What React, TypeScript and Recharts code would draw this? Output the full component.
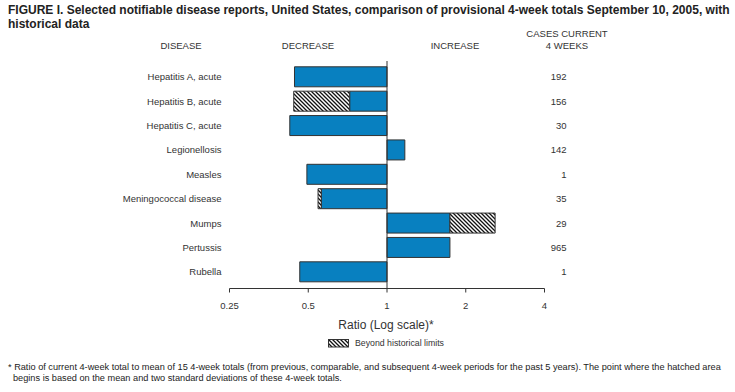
import React from "react";
import {
  BarChart,
  Bar,
  XAxis,
  YAxis,
  ReferenceLine,
} from "recharts";

// values (ratio of current 4-week total to historical mean)
const diseases = [
  "Hepatitis A, acute",
  "Hepatitis B, acute",
  "Hepatitis C, acute",
  "Legionellosis",
  "Measles",
  "Meningococcal disease",
  "Mumps",
  "Pertussis",
  "Rubella",
];
const ratios = [0.443, 0.44, 0.425, 1.17, 0.494, 0.545, 2.59, 1.74, 0.464];
// where the hatched part starts (historical limit), null if not beyond limits
const limits = [null, 0.72, null, null, null, 0.561, 1.74, null, null];
const cases = [192, 156, 30, 142, 1, 35, 29, 965, 1];
const xTicks = [0.25, 0.5, 1, 2, 4];

const BLUE = "#0880c0";
const EDGE = "#333";
const FONT = '"Liberation Sans", Arial, Helvetica, sans-serif';

const data = diseases.map((disease, i) => {
  const r = ratios[i];
  const lim = limits[i];
  const inner = lim ?? r;
  return {
    disease,
    cases: cases[i],
    normal: [Math.min(1, inner), Math.max(1, inner)],
    beyond: lim == null ? null : [Math.min(lim, r), Math.max(lim, r)],
  };
});

function HatchDef({ id }: { id: string }) {
  return (
    <pattern id={id} patternUnits="userSpaceOnUse" width="4" height="4">
      <rect width="4" height="4" fill="#fff" />
      <path
        d="M-1,-1 L5,5 M3,-1 L5,1 M-1,3 L1,5"
        stroke="#111"
        strokeWidth="1.3"
      />
    </pattern>
  );
}

const CasesTick = (props: any) => {
  const { x, y, index } = props;
  return (
    <text
      x={x + 14}
      y={y}
      dy="0.35em"
      textAnchor="end"
      fontSize={9.5}
      fill="#333"
      fontFamily={FONT}
    >
      {cases[index]}
    </text>
  );
};

const headStyle: React.CSSProperties = {
  position: "absolute",
  fontSize: 9.5,
  color: "#333",
  transform: "translateX(-50%)",
  whiteSpace: "nowrap",
  textAlign: "center",
  lineHeight: "12.5px",
};

export default function App() {
  return (
    <div
      style={{
        position: "absolute",
        left: 0,
        top: 0,
        width: 735,
        height: 392,
        background: "#fff",
        fontFamily: FONT,
        overflow: "hidden",
      }}
    >
      <div
        style={{
          position: "absolute",
          left: 8,
          top: 4,
          fontWeight: "bold",
          fontSize: 12,
          lineHeight: "13.5px",
          color: "#222",
          whiteSpace: "nowrap",
        }}
      >
        FIGURE I. Selected notifiable disease reports, United States, comparison
        of provisional 4-week totals September 10, 2005, with
        <br />
        historical data
      </div>

      <div style={{ ...headStyle, left: 181, top: 40 }}>DISEASE</div>
      <div style={{ ...headStyle, left: 308, top: 40 }}>DECREASE</div>
      <div style={{ ...headStyle, left: 455, top: 40 }}>INCREASE</div>
      <div style={{ ...headStyle, left: 567, top: 27.5 }}>
        CASES CURRENT
        <br />4 WEEKS
      </div>

      <div style={{ position: "absolute", left: 0, top: 0 }}>
        <BarChart
          width={735}
          height={320}
          data={data}
          layout="vertical"
          margin={{ top: 61, right: 150.5, bottom: 11.5, left: 0 }}
          barSize={20}
          barGap={-20}
        >
          <defs>
            <HatchDef id="hatch" />
          </defs>
          <XAxis
            type="number"
            scale="log"
            domain={[0.25, 4]}
            ticks={xTicks}
            allowDataOverflow
            height={20}
            tickSize={4}
            tickMargin={10}
            stroke={EDGE}
            tick={{ fontSize: 9.5, fill: "#333", fontFamily: FONT }}
          />
          <YAxis
            type="category"
            dataKey="disease"
            width={229.5}
            axisLine={false}
            tickLine={false}
            padding={{ top: 3.8, bottom: 4.3 }}
            tick={{ fontSize: 9.5, fill: "#333", fontFamily: FONT }}
          />
          <YAxis
            yAxisId="right"
            orientation="right"
            type="category"
            dataKey="disease"
            width={40}
            axisLine={false}
            tickLine={false}
            padding={{ top: 3.8, bottom: 4.3 }}
            tick={CasesTick}
          />
          <Bar
            dataKey="normal"
            fill={BLUE}
            stroke={EDGE}
            strokeWidth={1}
            isAnimationActive={false}
          />
          <Bar
            dataKey="beyond"
            fill="url(#hatch)"
            stroke={EDGE}
            strokeWidth={1}
            isAnimationActive={false}
          />
          <ReferenceLine x={1} stroke={EDGE} strokeWidth={1} />
        </BarChart>
      </div>

      <div
        style={{
          position: "absolute",
          left: 386,
          top: 318,
          transform: "translateX(-50%)",
          fontSize: 12,
          color: "#333",
          whiteSpace: "nowrap",
        }}
      >
        Ratio (Log scale)*
      </div>

      <div
        style={{
          position: "absolute",
          left: 328,
          top: 338,
          display: "flex",
          alignItems: "center",
          fontSize: 8.75,
          color: "#333",
          whiteSpace: "nowrap",
        }}
      >
        <svg width={21} height={9} style={{ marginRight: 6 }}>
          <defs>
            <HatchDef id="hatchLegend" />
          </defs>
          <rect
            x={0.5}
            y={0.5}
            width={20}
            height={7.5}
            fill="url(#hatchLegend)"
            stroke={EDGE}
          />
        </svg>
        Beyond historical limits
      </div>

      <div
        style={{
          position: "absolute",
          left: 8,
          top: 362,
          fontSize: 9.2,
          lineHeight: "11px",
          color: "#222",
          whiteSpace: "nowrap",
        }}
      >
        * Ratio of current 4-week total to mean of 15 4-week totals (from
        previous, comparable, and subsequent 4-week periods for the past 5
        years). The point where the hatched area
        <br />
        <span style={{ paddingLeft: 5 }}>
          begins is based on the mean and two standard deviations of these
          4-week totals.
        </span>
      </div>
    </div>
  );
}
